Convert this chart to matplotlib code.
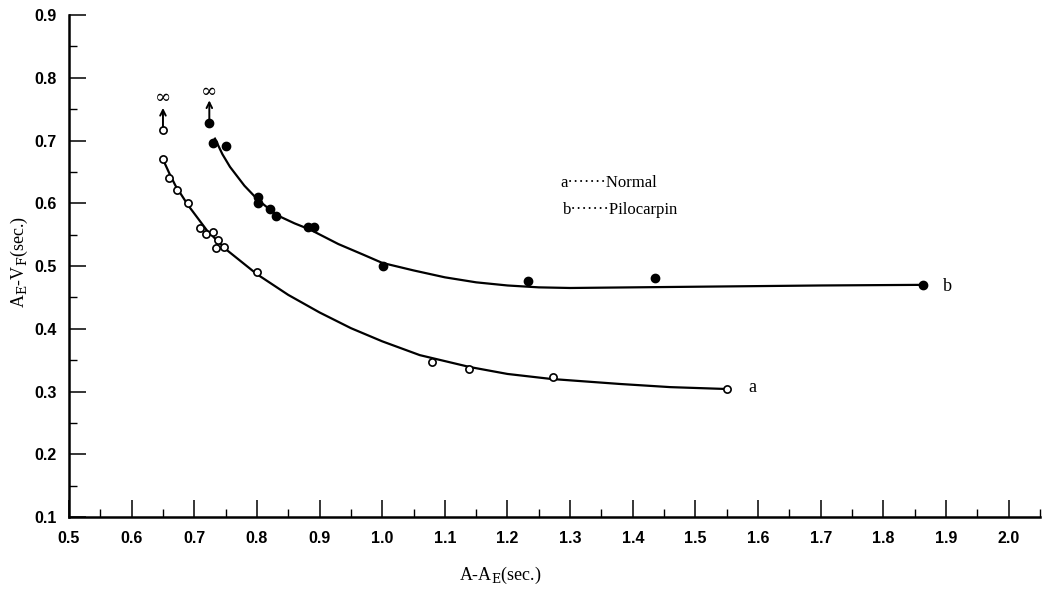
import matplotlib
matplotlib.use("Agg")
import matplotlib.pyplot as plt
from matplotlib.ticker import MultipleLocator

# series a : Normal (open circles)
normal_x = [0.65, 0.66, 0.672, 0.69, 0.709, 0.719, 0.730, 0.738, 0.735, 0.748, 0.80, 1.08, 1.139, 1.272, 1.55]
normal_y = [0.670, 0.640, 0.621, 0.600, 0.561, 0.551, 0.554, 0.541, 0.529, 0.530, 0.490, 0.347, 0.336, 0.323, 0.304]
# fitted curve a
curve_a_x = [0.65, 0.66, 0.67, 0.69, 0.72, 0.75, 0.80, 0.85, 0.90, 0.95, 1.00, 1.06, 1.14, 1.20, 1.27, 1.38, 1.46, 1.55]
curve_a_y = [0.670, 0.648, 0.628, 0.597, 0.557, 0.527, 0.487, 0.454, 0.426, 0.401, 0.380, 0.358, 0.339, 0.328, 0.320, 0.312, 0.307, 0.304]

# series b : Pilocarpin (filled circles)
pilo_x = [0.730, 0.751, 0.802, 0.802, 0.821, 0.831, 0.882, 0.891, 1.002, 1.233, 1.436, 1.863]
pilo_y = [0.696, 0.691, 0.610, 0.600, 0.591, 0.580, 0.562, 0.562, 0.500, 0.476, 0.481, 0.470]
curve_b_x = [0.733, 0.745, 0.757, 0.78, 0.802, 0.832, 0.86, 0.885, 0.93, 0.97, 1.00, 1.05, 1.10, 1.15, 1.20, 1.25, 1.30, 1.40, 1.50, 1.60, 1.70, 1.863]
curve_b_y = [0.703, 0.678, 0.658, 0.628, 0.605, 0.581, 0.568, 0.558, 0.535, 0.518, 0.505, 0.493, 0.482, 0.474, 0.469, 0.466, 0.465, 0.466, 0.467, 0.468, 0.469, 0.470]

# points that go to infinity
inf_x = [0.65, 0.724]
inf_y = [0.716, 0.728]
inf_top = [0.752, 0.764]
inf_label_y = [0.767, 0.778]

x_ticks = [0.5, 0.6, 0.7, 0.8, 0.9, 1.0, 1.1, 1.2, 1.3, 1.4, 1.5, 1.6, 1.7, 1.8, 1.9, 2.0]
y_ticks = [0.1, 0.2, 0.3, 0.4, 0.5, 0.6, 0.7, 0.8, 0.9]

plt.rcParams['mathtext.fontset'] = 'dejavuserif'

fig = plt.figure(figsize=(10.44, 5.89), dpi=100)
ax = fig.add_axes([0.0661, 0.1222, 0.930, 0.8523])

ax.plot(curve_a_x, curve_a_y, color='black', linewidth=1.6, zorder=2)
ax.plot(curve_b_x, curve_b_y, color='black', linewidth=1.6, zorder=2)
ax.plot(normal_x, normal_y, 'o', markersize=5.2, markerfacecolor='white',
        markeredgecolor='black', markeredgewidth=1.2, zorder=3)
ax.plot(pilo_x, pilo_y, 'o', markersize=6, color='black', zorder=3)

# infinity markers
ax.plot(inf_x[0], inf_y[0], 'o', markersize=5.2, markerfacecolor='white',
        markeredgecolor='black', markeredgewidth=1.2, zorder=3)
ax.plot(inf_x[1], inf_y[1], 'o', markersize=6, color='black', zorder=3)
for i in range(2):
    ax.annotate('', xy=(inf_x[i], inf_top[i]), xytext=(inf_x[i], inf_y[i] + 0.006),
                arrowprops=dict(arrowstyle='->', color='black', lw=1.4,
                                shrinkA=0, shrinkB=0, mutation_scale=10))
    ax.text(inf_x[i], inf_label_y[i], '∞', ha='center', va='center',
            fontsize=14, family='DejaVu Serif')

ax.text(1.585, 0.307, 'a', ha='left', va='center', fontsize=13, family='Liberation Serif')
ax.text(1.895, 0.467, 'b', ha='left', va='center', fontsize=13, family='Liberation Serif')
ax.text(1.284, 0.632, 'a·······Normal', ha='left', va='center', fontsize=12, family='Liberation Serif')
ax.text(1.289, 0.589, 'b·······Pilocarpin', ha='left', va='center', fontsize=12, family='Liberation Serif')

ax.set_xlim(0.5, 2.05)
ax.set_ylim(0.1, 0.9)
ax.set_xticks(x_ticks)
ax.set_yticks(y_ticks)
ax.set_xticklabels(['%.1f' % v for v in x_ticks], fontsize=11.5, fontweight='bold', family='Liberation Sans')
ax.set_yticklabels(['%.1f' % v for v in y_ticks], fontsize=11.5, fontweight='bold', family='Liberation Sans')
ax.xaxis.set_minor_locator(MultipleLocator(0.05))
ax.yaxis.set_minor_locator(MultipleLocator(0.05))
ax.tick_params(which='major', direction='in', length=12, width=1.1)
ax.tick_params(which='minor', direction='in', length=6, width=1.0)
ax.tick_params(axis='x', which='major', pad=10)
ax.tick_params(axis='y', which='major', pad=9)

for side in ['top', 'right']:
    ax.spines[side].set_visible(False)
for side in ['left', 'bottom']:
    ax.spines[side].set_linewidth(1.8)

ax.set_xlabel(r'A-A$_\mathrm{E}$(sec.)', fontsize=13, family='Liberation Serif')
ax.set_ylabel(r'A$_\mathrm{E}$-V$_\mathrm{F}$(sec.)', fontsize=13, family='Liberation Serif')
ax.xaxis.set_label_coords(0.444, -0.095)
ax.yaxis.set_label_coords(-0.040, 0.508)

fig.savefig('out.png', dpi=100)
